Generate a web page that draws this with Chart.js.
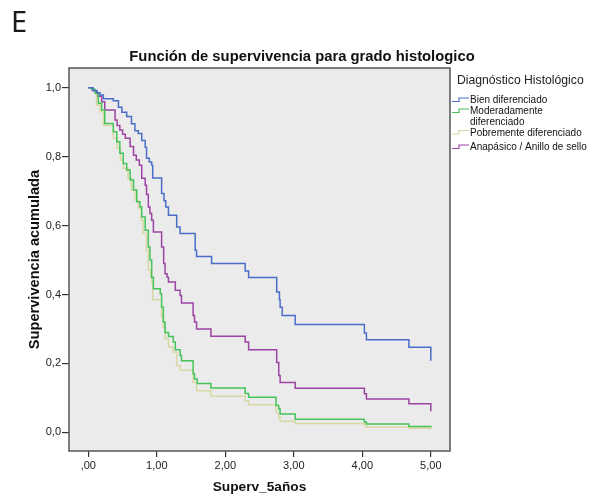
<!DOCTYPE html>
<html>
	<head>
		<meta charset="UTF-8" />
		<title>Función de supervivencia para grado histologico</title>
		<style type="text/css">
			body {
				margin: 0;
				background-color: #ffffff;
			}
			.chartBox {
				position: relative;
				width: 598px;
				height: 497px;
			}
			.panelTag {
				position: absolute;
				left: 11px;
				top: 1px;
				font-family: "Noto Sans", sans-serif;
				font-size: 29px;
				color: #1a1a1a;
			}
		</style>
	</head>
	<body>
		<div class="chartBox">
			<canvas id="myChart" width="598" height="497"></canvas>
			<div class="panelTag">E</div>
		</div>

		<script src="https://cdn.jsdelivr.net/npm/chart.js@4/dist/chart.umd.min.js"></script>
		<script>
		// Kaplan-Meier steps: time of each drop (years) and survival right after it
		const bienT = [0, 0.07, 0.12, 0.17, 0.22, 0.365, 0.44, 0.49, 0.56, 0.63, 0.68, 0.73, 0.78, 0.83, 0.85, 0.89, 0.925, 0.94, 1.07, 1.105, 1.13, 1.17, 1.29, 1.34, 1.56, 1.58, 1.80, 2.29, 2.34, 2.75, 2.79, 2.80, 2.83, 3.02, 4.03, 4.06, 4.68, 5.0];
		const bienS = [1.0, 0.992, 0.985, 0.979, 0.968, 0.962, 0.943, 0.929, 0.916, 0.895, 0.875, 0.867, 0.847, 0.827, 0.795, 0.784, 0.775, 0.738, 0.693, 0.672, 0.654, 0.63, 0.596, 0.577, 0.528, 0.51, 0.49, 0.468, 0.449, 0.407, 0.385, 0.363, 0.339, 0.313, 0.288, 0.269, 0.247, 0.208];

		const modT = [0, 0.05, 0.10, 0.146, 0.195, 0.24, 0.365, 0.415, 0.46, 0.51, 0.56, 0.61, 0.66, 0.707, 0.755, 0.78, 0.83, 0.876, 0.90, 0.925, 0.95, 1.05, 1.07, 1.095, 1.12, 1.17, 1.24, 1.27, 1.34, 1.36, 1.53, 1.55, 1.59, 1.79, 2.29, 2.34, 2.74, 2.78, 2.80, 3.02, 4.03, 4.06, 4.68, 5.0];
		const modS = [1.0, 0.995, 0.984, 0.955, 0.935, 0.896, 0.872, 0.843, 0.81, 0.78, 0.761, 0.732, 0.703, 0.669, 0.654, 0.625, 0.586, 0.538, 0.50, 0.45, 0.417, 0.402, 0.363, 0.32, 0.29, 0.278, 0.262, 0.24, 0.223, 0.208, 0.17, 0.155, 0.142, 0.129, 0.113, 0.102, 0.078, 0.068, 0.053, 0.038, 0.030, 0.024, 0.017, 0.014];

		const pobT = [0, 0.07, 0.12, 0.17, 0.22, 0.365, 0.42, 0.47, 0.51, 0.58, 0.63, 0.68, 0.73, 0.77, 0.80, 0.85, 0.876, 0.91, 0.925, 0.94, 1.07, 1.095, 1.12, 1.17, 1.24, 1.29, 1.34, 1.53, 1.58, 1.79, 2.29, 2.34, 2.74, 2.78, 2.80, 3.02, 4.03, 4.06, 4.68, 5.0];
		const pobS = [1.0, 0.99, 0.95, 0.93, 0.89, 0.853, 0.824, 0.79, 0.766, 0.737, 0.703, 0.674, 0.65, 0.615, 0.577, 0.528, 0.47, 0.45, 0.436, 0.385, 0.334, 0.305, 0.271, 0.247, 0.233, 0.194, 0.18, 0.145, 0.121, 0.105, 0.092, 0.08, 0.058, 0.044, 0.032, 0.026, 0.02, 0.015, 0.012, 0.009];

		const anaT = [0, 0.06, 0.13, 0.195, 0.24, 0.39, 0.42, 0.46, 0.50, 0.54, 0.61, 0.66, 0.70, 0.745, 0.78, 0.83, 0.85, 0.876, 0.90, 0.925, 0.95, 1.07, 1.10, 1.12, 1.15, 1.17, 1.27, 1.34, 1.36, 1.53, 1.55, 1.58, 1.79, 2.29, 2.34, 2.75, 2.78, 2.80, 3.02, 4.03, 4.06, 4.68, 5.0];
		const anaS = [1.0, 0.99, 0.975, 0.959, 0.935, 0.906, 0.89, 0.877, 0.865, 0.853, 0.829, 0.804, 0.79, 0.775, 0.737, 0.717, 0.69, 0.654, 0.635, 0.615, 0.581, 0.538, 0.49, 0.46, 0.45, 0.436, 0.412, 0.397, 0.375, 0.339, 0.32, 0.30, 0.279, 0.262, 0.24, 0.203, 0.165, 0.145, 0.128, 0.112, 0.097, 0.083, 0.061];

		const groupNames = ["Bien diferenciado", "Moderadamente diferenciado", "Pobremente diferenciado", "Anapásico / Anillo de sello"];
		const groupColors = ["#4a6ec8", "#46c35a", "#d8d8a4", "#9c44a4"];

		const xTicks = [0, 1, 2, 3, 4, 5];
		const xTickLabels = [",00", "1,00", "2,00", "3,00", "4,00", "5,00"];
		const yTicks = [0, 0.2, 0.4, 0.6, 0.8, 1.0];
		const yTickLabels = ["0,0", "0,2", "0,4", "0,6", "0,8", "1,0"];

		function steps(times, surv) {
			return times.map((t, i) => ({x: t, y: surv[i]}));
		}

		const curves = [steps(bienT, bienS), steps(modT, modS), steps(pobT, pobS), steps(anaT, anaS)];

		const FONT = "'Liberation Sans', Arial, sans-serif";

		// grey plot panel behind the curves, dark frame and legend on top
		const panelPlugin = {
			id: 'panel',
			beforeDatasetsDraw(chart) {
				const a = chart.chartArea;
				const ctx = chart.ctx;
				ctx.save();
				ctx.fillStyle = '#ebebeb';
				ctx.fillRect(a.left, a.top, a.right - a.left, a.bottom - a.top);
				ctx.restore();
			},
			afterDraw(chart) {
				const a = chart.chartArea;
				const ctx = chart.ctx;
				ctx.save();
				ctx.strokeStyle = '#555555';
				ctx.lineWidth = 1.5;
				ctx.strokeRect(a.left, a.top, a.right - a.left, a.bottom - a.top);

				// title
				ctx.fillStyle = '#111111';
				ctx.font = "bold 14.8px " + FONT;
				ctx.textAlign = 'center';
				ctx.textBaseline = 'middle';
				ctx.fillText("Función de supervivencia para grado histologico", 302, 57);

				// legend
				ctx.textAlign = 'left';
				ctx.font = "12.2px " + FONT;
				ctx.fillStyle = '#222222';
				ctx.fillText("Diagnóstico Histológico", 457, 81);

				const rows = [[100.5], [111.5, 122], [133], [147.5]];
				const lines = [["Bien diferenciado"], ["Moderadamente", "diferenciado"], ["Pobremente diferenciado"], ["Anapásico / Anillo de sello"]];
				ctx.font = "10px " + FONT;
				rows.forEach((ys, i) => {
					const y0 = ys[0];
					ctx.strokeStyle = groupColors[i];
					ctx.lineWidth = 1.2;
					ctx.beginPath();
					ctx.moveTo(452, y0 + 1);
					ctx.lineTo(459, y0 + 1);
					ctx.lineTo(459, y0 - 2.5);
					ctx.lineTo(469, y0 - 2.5);
					ctx.stroke();
					ctx.fillStyle = '#111111';
					lines[i].forEach((txt, j) => ctx.fillText(txt, 470, ys[j]));
				});
				ctx.restore();
			}
		};

		const ctx = document.getElementById('myChart').getContext('2d');

		const config = {
			type: 'line',
			data: {
				datasets: curves.map((pts, i) => ({
					label: groupNames[i],
					data: pts,
					borderColor: groupColors[i],
					borderWidth: 1.5,
					stepped: true,
					pointRadius: 0,
					fill: false
				}))
			},
			options: {
				responsive: false,
				devicePixelRatio: 1,
				animation: false,
				layout: {
					padding: {left: 0, top: 68, right: 148, bottom: 0}
				},
				plugins: {
					legend: {display: false},
					title: {display: false},
					tooltip: {enabled: false}
				},
				scales: {
					x: {
						type: 'linear',
						min: -0.282,
						max: 5.28,
						afterFit: s => { s.height = 46; },
						afterBuildTicks: s => { s.ticks = xTicks.map(v => ({value: v})); },
						border: {display: false},
						grid: {drawOnChartArea: false, drawTicks: true, tickLength: 6, color: '#333333', lineWidth: 1.2},
						ticks: {
							padding: 2,
							maxRotation: 0,
							color: '#222222',
							font: {family: FONT, size: 11},
							callback: (v, i) => xTickLabels[i]
						},
						title: {
							display: true,
							text: 'Superv_5años',
							color: '#111111',
							font: {family: FONT, size: 13.7, weight: 'bold'},
							padding: {top: 0, bottom: 2}
						}
					},
					y: {
						type: 'linear',
						min: -0.054,
						max: 1.057,
						afterFit: s => { s.width = 69; },
						afterBuildTicks: s => { s.ticks = yTicks.map(v => ({value: v})); },
						border: {display: false},
						grid: {drawOnChartArea: false, drawTicks: true, tickLength: 7, color: '#333333', lineWidth: 1.2},
						ticks: {
							padding: 1,
							color: '#222222',
							font: {family: FONT, size: 11},
							callback: (v, i) => yTickLabels[i]
						},
						title: {
							display: true,
							text: 'Supervivencia acumulada',
							color: '#111111',
							font: {family: FONT, size: 14.6, weight: 'bold'},
							padding: {top: 26, bottom: 0}
						}
					}
				}
			},
			plugins: [panelPlugin]
		};

		const myChart = new Chart(ctx, config);
		</script>
	</body>
</html>
